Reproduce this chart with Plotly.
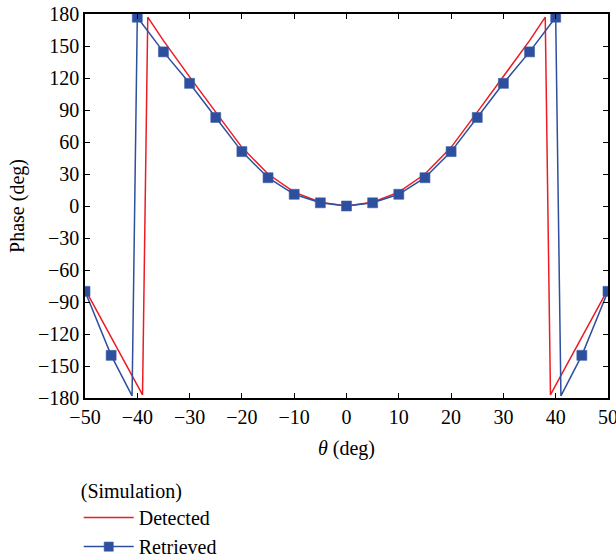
import plotly.graph_objects as go

# Detected phase (deg) versus angle
theta_det = [-50, -45, -40, -39, -38, -35, -30, -25, -20, -15, -10, -5, 0,
             5, 10, 15, 20, 25, 30, 35, 38, 39, 40, 45, 50]
phase_det = [-78, -123, -168, -177, 177, 155, 121, 88, 55, 30, 13, 3.5, 0,
             3.5, 13, 30, 55, 88, 121, 155, 177, -177, -168, -123, -78]

# Retrieved phase (deg) versus angle; markers drawn every 5 deg
theta_ret = [-50, -45, -41, -40, -35, -30, -25, -20, -15, -10, -5, 0,
             5, 10, 15, 20, 25, 30, 35, 40, 41, 45, 50]
phase_ret = [-80, -140, -178, 177, 144.5, 115, 83, 51, 26.5, 11, 3, 0,
             3, 11, 26.5, 51, 83, 115, 144.5, 177, -178, -140, -80]

x_ticks = list(range(-50, 51, 10))
y_ticks = list(range(-180, 181, 30))

RED = "#ec1c24"
BLUE = "#2d4f9e"
FONT = "Liberation Serif"
FS = 20

marker_sizes = [0 if t % 5 else 10 for t in theta_ret]

fig = go.Figure()
fig.add_trace(go.Scatter(
    x=theta_det, y=phase_det, mode="lines", name="Detected",
    line=dict(color=RED, width=1.5),
))
fig.add_trace(go.Scatter(
    x=theta_ret, y=phase_ret, mode="lines+markers", name="Retrieved",
    line=dict(color=BLUE, width=1.5),
    marker=dict(symbol="square", size=marker_sizes, color=BLUE, opacity=1,
                line=dict(color="#3f5fa8", width=0.6)),
))

axis_common = dict(
    showline=True, linecolor="black", linewidth=1.6, mirror="ticks",
    ticks="inside", ticklen=5, tickwidth=1.2, tickcolor="black",
    showgrid=False, zeroline=False, automargin=False,
    ticklabeloverflow="allow",
    tickfont=dict(family=FONT, size=FS, color="black"),
)

fig.update_layout(
    width=616, height=560,
    margin=dict(l=85, r=8, t=14, b=162, autoexpand=False),
    plot_bgcolor="white", paper_bgcolor="white",
    font=dict(family=FONT, size=FS, color="black"),
    xaxis=dict(range=[-50, 50], tickvals=x_ticks,
               title=dict(text="<i>θ</i> (deg)", font=dict(family=FONT, size=FS),
                          standoff=14),
               **axis_common),
    yaxis=dict(range=[-180, 180], tickvals=y_ticks,
               title=dict(text="Phase (deg)", font=dict(family=FONT, size=FS),
                          standoff=8),
               **axis_common),
    legend=dict(
        title=dict(text="(Simulation)", font=dict(family=FONT, size=FS)),
        x=-0.012, xanchor="left", y=-0.193, yanchor="top",
        font=dict(family=FONT, size=FS), bgcolor="rgba(0,0,0,0)",
        itemwidth=50, tracegroupgap=0,
    ),
    showlegend=True,
)

fig.write_html("out.html")
